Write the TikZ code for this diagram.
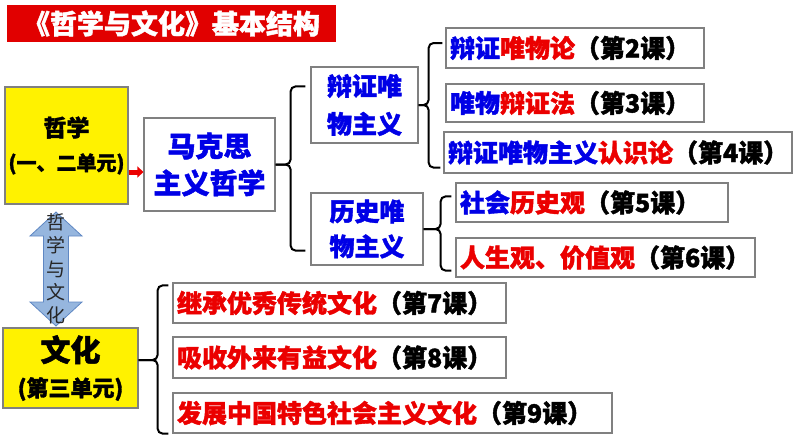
\documentclass[tikz,border=0pt]{standalone}
\usepackage{fontspec}
\newfontfamily\cjk{Noto Sans CJK SC}[BoldFeatures={FakeBold=1.6}]
\usetikzlibrary{arrows.meta,calc}
\definecolor{zblue}{RGB}{0,0,230}
\definecolor{zred}{RGB}{235,0,0}
\definecolor{biaoti}{RGB}{225,0,0}
\definecolor{kuangxian}{RGB}{128,128,128}
\definecolor{jtfill}{RGB}{150,182,222}
\definecolor{jtline}{RGB}{95,135,195}
\newcommand{\lan}[1]{\textcolor{zblue}{#1}}
\newcommand{\hong}[1]{\textcolor{zred}{#1}}
\newcommand{\zihao}[2]{\fontsize{#1}{#2}\selectfont}

\begin{document}
\begin{tikzpicture}[x=1pt,y=-1pt,
    every node/.style={font=\cjk\bfseries},
    kuang/.style={draw=kuangxian, line width=1.2pt, fill=white, inner sep=0pt},
    ke/.style={kuang, align=left, inner xsep=4pt, font=\cjk\bfseries\zihao{25}{30}},
    huang/.style={kuang, fill=yellow, align=center},
    kuo/.style={line width=2pt, rounded corners=5pt},
    hongjt/.style={zred, line width=5pt, -{Triangle[length=6pt,width=11pt]}},
    shuangjt/.style={fill=jtfill, draw=jtline, line width=0.8pt}]
  \useasboundingbox (0,0) rectangle (794,447);

  % title
  \node[fill=biaoti, text=white, minimum width=329pt, minimum height=37pt, inner sep=0pt,
    font=\cjk\bfseries\zihao{27}{30}] (bt) at (171.5,23.5) {《哲学与文化》基本结构};

  % left column
  \node[huang, minimum width=123pt, minimum height=117pt, font=\cjk\bfseries\zihao{23}{34}]
    (zx) at (66.5,145.5) {哲学\\{\zihao{20}{34}(一、二单元)}};
  \node[huang, minimum width=135pt, minimum height=80pt, font=\cjk\bfseries\zihao{30}{35}]
    (wh) at (70.5,368) {文化\\{\zihao{22}{35}(第三单元)}};

  \coordinate (zwc) at (56,269);
  \begin{scope}[shift={(zwc)}]
    \filldraw[shuangjt] (0,-57) -- (26,-33) -- (12.5,-33) -- (12.5,33) -- (26,33) -- (0,57)
      -- (-26,33) -- (-12.5,33) -- (-12.5,-33) -- (-26,-33) -- cycle;
  \end{scope}
  \node[font=\cjk\zihao{19}{23.3}, align=center, text=black!85, inner sep=0pt] (zw) at (zwc)
    {哲\\学\\与\\文\\化};

  % philosophy part
  \node[kuang, minimum width=131pt, minimum height=93pt, align=center, text=zblue,
    font=\cjk\bfseries\zihao{28}{37}] (mks) at (209.5,164.5) {马克思\\主义哲学};
  \node[kuang, minimum width=107pt, minimum height=76pt, align=center, text=zblue,
    font=\cjk\bfseries\zihao{25}{38}] (bz) at (364.5,105) {辩证唯\\物主义};
  \node[kuang, minimum width=112pt, minimum height=72pt, align=center, text=zblue,
    font=\cjk\bfseries\zihao{25}{35}] (ls) at (367,229) {历史唯\\物主义};

  \node[ke, text width=250pt, minimum height=40pt] (k2) at (575,48) {\lan{辩证}\hong{唯物论}（第2课）};
  \node[ke, text width=250pt, minimum height=38pt] (k3) at (575,103) {\lan{唯物}\hong{辩证法}（第3课）};
  \node[ke, text width=340pt, minimum height=41pt] (k4) at (618,152.5) {\lan{辩证唯物主义}\hong{认识论}（第4课）};
  \node[ke, text width=264pt, minimum height=39pt] (k5) at (592,202.5) {\lan{社会}\hong{历史观}（第5课）};
  \node[ke, text width=291pt, minimum height=39pt] (k6) at (605.5,257.5) {\hong{人生观、价值观}（第6课）};

  % culture part
  \node[ke, text width=325pt, minimum height=40pt] (k7) at (339.5,303) {\hong{继承优秀传统文化}（第7课）};
  \node[ke, text width=325pt, minimum height=41pt] (k8) at (339.5,357.5) {\hong{吸收外来有益文化}（第8课）};
  \node[ke, text width=431pt, minimum height=40pt] (k9) at (392.5,413) {\hong{发展中国特色社会主义文化}（第9课）};

  \draw[hongjt] ([yshift=-26.5pt]zx.east) -- ([yshift=-7.5pt]mks.west);

  % braces
  \draw[kuo] (mks.east) -- ++(15,0) |- ($(bz.north west)+(-5,20)$);
  \draw[kuo] (mks.east) -- ++(15,0) |- ($(ls.south west)+(-5,-15)$);
  \draw[kuo] (bz.east) -- ++(10,0) |- ($(k2.west)+(-3,-5)$);
  \draw[kuo] (bz.east) -- ++(10,0) |- ($(k4.south west)+(-3,-6)$);
  \draw[kuo] (ls.east) -- ++(17,0) |- ($(k5.north west)+(-4,14)$);
  \draw[kuo] (ls.east) -- ++(17,0) |- ($(k6.south west)+(-4,-7)$);
  \draw[kuo] ([yshift=8pt]wh.east) -- ++(19,0) |- ($(k7.north west)+(-4,3)$);
  \draw[kuo] ([yshift=8pt]wh.east) -- ++(19,0) |- ($(k9.south west)+(-4,0)$);
\end{tikzpicture}
\end{document}
